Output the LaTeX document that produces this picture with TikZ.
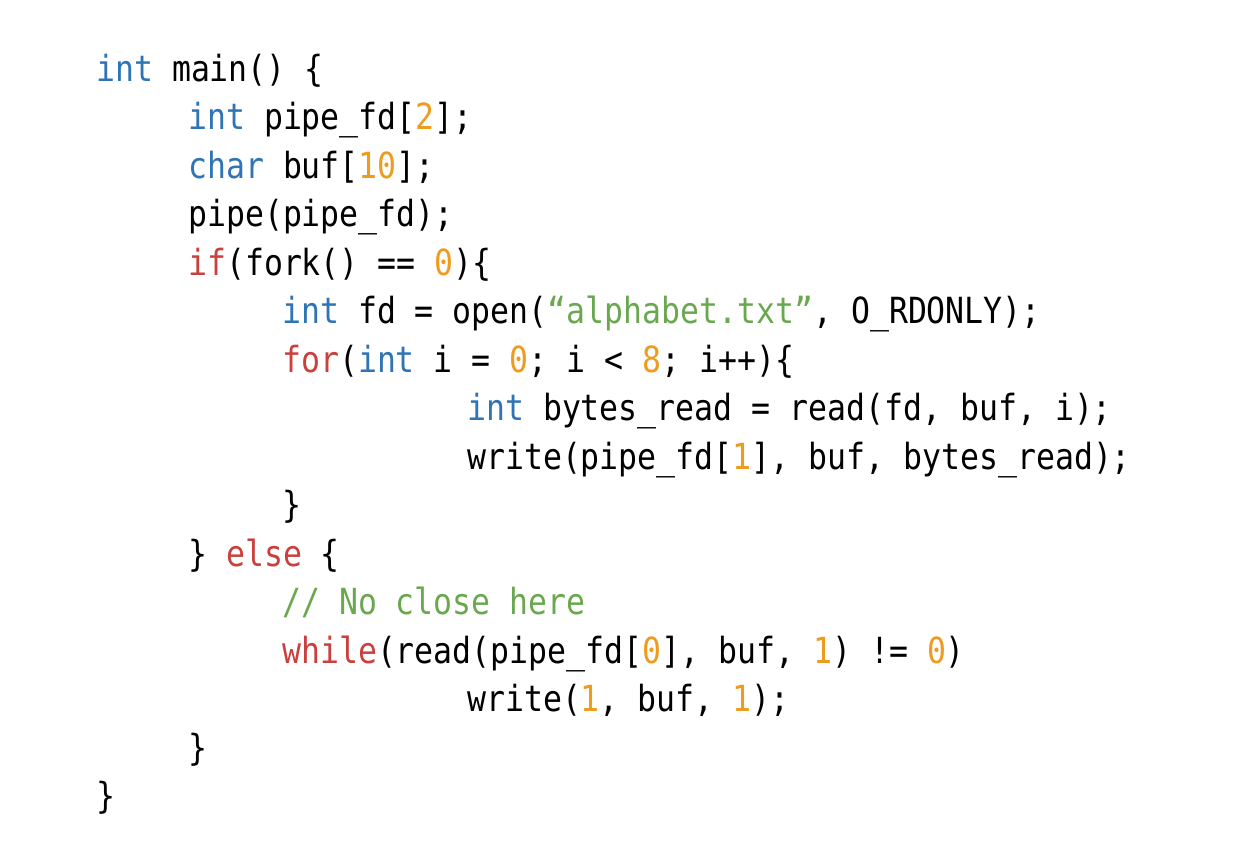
\documentclass[tikz,border=0pt]{standalone}
\usepackage{fontspec}
\setmonofont[FakeStretch=0.875]{DejaVu Sans Mono}
\definecolor{kb}{HTML}{2F74B5}
\definecolor{kr}{HTML}{C9403D}
\definecolor{ko}{HTML}{EE9B1E}
\definecolor{kg}{HTML}{6AA84F}
\newcommand{\B}[1]{\textcolor{kb}{#1}}
\newcommand{\R}[1]{\textcolor{kr}{#1}}
\newcommand{\Or}[1]{\textcolor{ko}{#1}}
\newcommand{\G}[1]{\textcolor{kg}{#1}}
\tikzset{codeline/.style={anchor=base west,inner sep=0pt,font=\ttfamily\fontsize{36}{36}\selectfont}}
\begin{document}
\begin{tikzpicture}[x=1pt,y=-1pt]
\useasboundingbox (0,0) rectangle (1257,860);
\def\d{48.5}
\node[codeline] (l1) at (96,81) {\B{int} main() \{};
\node[codeline] (l2) at (188,81+\d) {\B{int} pipe\_fd[\Or{2}];};
\node[codeline] (l3) at (188,81+2*\d) {\B{char} buf[\Or{10}];};
\node[codeline] (l4) at (188,81+3*\d) {pipe(pipe\_fd);};
\node[codeline] (l5) at (188,81+4*\d) {\R{if}(fork() == \Or{0})\{};
\node[codeline] (l6) at (282,81+5*\d) {\B{int} fd = open(\G{“alphabet.txt”}, O\_RDONLY);};
\node[codeline] (l7) at (282,81+6*\d) {\R{for}(\B{int} i = \Or{0}; i < \Or{8}; i++)\{};
\node[codeline] (l8) at (467,81+7*\d) {\B{int} bytes\_read = read(fd, buf, i);};
\node[codeline] (l9) at (467,81+8*\d) {write(pipe\_fd[\Or{1}], buf, bytes\_read);};
\node[codeline] (l10) at (282,81+9*\d) {\}};
\node[codeline] (l11) at (188,81+10*\d) {\} \R{else} \{};
\node[codeline] (l12) at (282,81+11*\d) {\G{// No close here}};
\node[codeline] (l13) at (282,81+12*\d) {\R{while}(read(pipe\_fd[\Or{0}], buf, \Or{1}) != \Or{0})};
\node[codeline] (l14) at (467,81+13*\d) {write(\Or{1}, buf, \Or{1});};
\node[codeline] (l15) at (188,81+14*\d) {\}};
\node[codeline] (l16) at (96,81+15*\d) {\}};
\end{tikzpicture}
\end{document}
